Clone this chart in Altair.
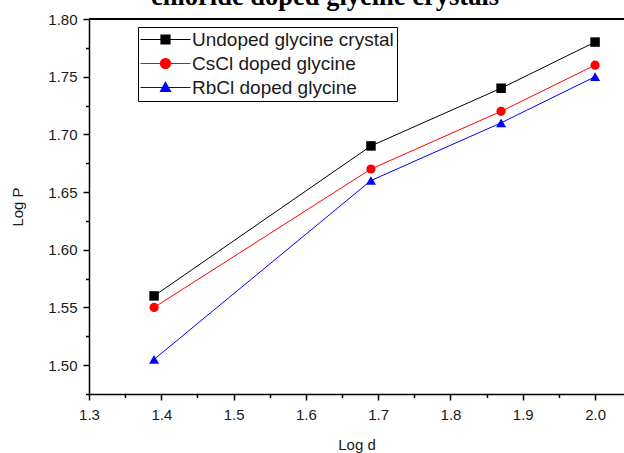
import altair as alt
import pandas as pd

# ---- data ----
log_d = [1.39, 1.69, 1.87, 2.0]
undoped = [1.56, 1.69, 1.74, 1.78]
cscl = [1.55, 1.67, 1.72, 1.76]
rbcl = [1.505, 1.66, 1.71, 1.75]
series_names = ["Undoped glycine crystal", "CsCl doped glycine", "RbCl doped glycine"]
colors = ["#000000", "#ff0000", "#0000ff"]
shapes = ["square", "circle", "triangle-up"]
x_ticks = [1.30, 1.35, 1.40, 1.45, 1.50, 1.55, 1.60, 1.65, 1.70, 1.75, 1.80, 1.85, 1.90, 1.95, 2.00]
y_ticks = [1.475, 1.50, 1.525, 1.55, 1.575, 1.60, 1.625, 1.65, 1.675, 1.70, 1.725, 1.75, 1.775, 1.80]
title_text = "chloride doped glycine crystals"
x_title = "Log d"
y_title = "Log P"

rows = []
for name, vals in zip(series_names, [undoped, cscl, rbcl]):
    for xv, yv in zip(log_d, vals):
        rows.append({"series": name, "log_d": xv, "log_p": yv})
df = pd.DataFrame(rows)

FONT = "Liberation Sans"
LABEL_COLOR = "#1a1a1a"

x_scale = alt.Scale(domain=[1.3, 2.04], nice=False, zero=False)
y_scale = alt.Scale(domain=[1.475, 1.80], nice=False, zero=False)

major_x = "abs(datum.value*10 - round(datum.value*10)) < 0.001"
major_y = "abs(datum.value*20 - round(datum.value*20)) < 0.001"

x_axis = alt.Axis(
    title=x_title, values=x_ticks,
    labelExpr=f"{major_x} ? format(datum.value, '.1f') : ''",
    tickSize={"condition": {"test": major_x, "value": 6}, "value": 3.5},
    labelOverlap=False, labelFlush=False, grid=False,
    domainColor="black", domainWidth=1.5, tickColor="black", tickWidth=1.5,
    labelFont=FONT, labelFontSize=15, labelColor=LABEL_COLOR, labelPadding=7,
    titleFont=FONT, titleFontSize=15, titleFontWeight="normal", titleColor=LABEL_COLOR,
    titleBaseline="alphabetic", titleY=55,
)
y_axis = alt.Axis(
    title=y_title, values=y_ticks,
    labelExpr=f"{major_y} ? format(datum.value, '.2f') : ''",
    tickSize={"condition": {"test": major_y, "value": 6}, "value": 3.5},
    labelOverlap=False, labelFlush=False, grid=False,
    domainColor="black", domainWidth=1.5, tickColor="black", tickWidth=1.5,
    labelFont=FONT, labelFontSize=15, labelColor=LABEL_COLOR, labelPadding=6,
    titleFont=FONT, titleFontSize=15, titleFontWeight="normal", titleColor=LABEL_COLOR,
    titleX=-64, titleY=187.5, titleAlign="center", titleBaseline="bottom", titleAngle=270,
)

X = alt.X("log_d:Q", scale=x_scale, axis=x_axis)
Y = alt.Y("log_p:Q", scale=y_scale, axis=y_axis)

sizes = [90, 85, 100]
line_layers = []
point_layers = []
for name, col, shp, sz in zip(series_names, colors, shapes, sizes):
    base = alt.Chart(df).transform_filter(alt.datum.series == name)
    line_layers.append(base.mark_line(strokeWidth=1, color=col).encode(x=X, y=Y))
    point_layers.append(
        base.mark_point(shape=shp, filled=True, size=sz, color=col, opacity=1).encode(x=X, y=Y)
    )

top_frame = alt.Chart(df).mark_rule(color="black", strokeWidth=1.5).encode(y=alt.value(0))

# legend symbols: a line with the marker in its middle (units of 5 px)
legend_paths = [
    "M-2,0H8M2.1,-0.9H3.9V0.9H2.1Z",
    "M-2,0H8M2,0A1,1 0 1,0 4,0A1,1 0 1,0 2,0Z",
    "M-2,0H8M3,-1.05L4,0.8H2Z",
]


def make_legend():
    return alt.Legend(
        title=None, orient="none", legendX=49, legendY=8,
        strokeColor="black", padding=3, fillColor="white",
        labelFont=FONT, labelFontSize=19, labelColor=LABEL_COLOR, labelOffset=32,
        symbolSize=100, symbolStrokeWidth=1.2, rowPadding=4, labelLimit=400,
    )


legend_layer = alt.Chart(df).mark_point(filled=True, opacity=1, strokeWidth=1.2).encode(
    x=alt.value(-300), y=alt.value(-300),
    fill=alt.Fill("series:N", scale=alt.Scale(domain=series_names, range=colors),
                  legend=make_legend()),
    stroke=alt.Stroke("series:N", scale=alt.Scale(domain=series_names, range=colors),
                      legend=make_legend()),
    shape=alt.Shape("series:N", scale=alt.Scale(domain=series_names, range=legend_paths),
                    legend=make_legend()),
)

title_df = pd.DataFrame({"t": [title_text]})
title_layer = alt.Chart(title_df).mark_text(
    font="Liberation Serif", fontWeight="bold", fontSize=26.5,
    baseline="alphabetic", align="center", color="black"
).encode(text="t:N", x=alt.value(236), y=alt.value(-14))

chart = alt.layer(*line_layers, *point_layers, top_frame, legend_layer, title_layer).properties(
    width=535, height=375,
    autosize=alt.AutoSizeParams(type="none"),
    padding={"left": 89, "top": 19, "right": 0, "bottom": 59},
    background="white",
).configure_view(stroke="transparent")

chart.save("out.html", embed_options={"renderer": "svg", "actions": False})
